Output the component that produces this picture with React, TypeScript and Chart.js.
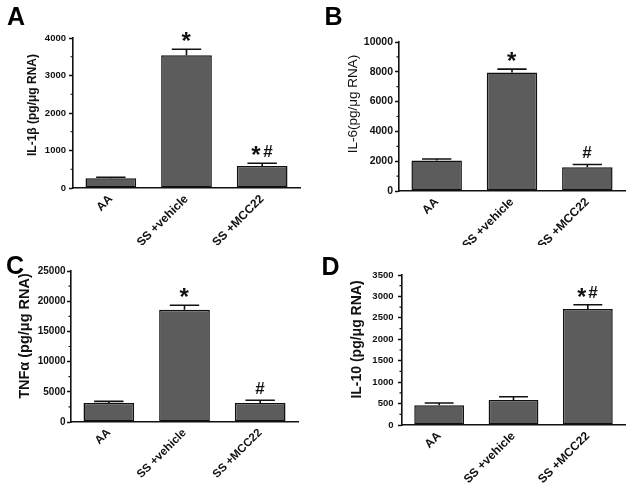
import React, { useEffect, useRef } from 'react';
import { Chart, registerables } from 'chart.js';

Chart.register(...registerables);

// ---------- data ----------
const categories = ['AA', 'SS +vehicle', 'SS +MCC22'];

const il1bMean = [262, 3540, 590];
const il1bUpper = [285, 3700, 662];
const il1bMarks = ['', '*', '*#'];
const il1bTicks = [0, 1000, 2000, 3000, 4000];

const il6Mean = [2040, 7950, 1595];
const il6Upper = [2150, 8180, 1780];
const il6Marks = ['', '*', '#'];
const il6Ticks = [0, 2000, 4000, 6000, 8000, 10000];

const tnfMean = [3150, 18600, 3150];
const tnfUpper = [3420, 19320, 3590];
const tnfMarks = ['', '*', '#'];
const tnfTicks = [0, 5000, 10000, 15000, 20000, 25000];

const il10Mean = [458, 583, 2704];
const il10Upper = [514, 660, 2806];
const il10Marks = ['', '', '*#'];
const il10Ticks = [0, 500, 1000, 1500, 2000, 2500, 3000, 3500];

// ---------- style ----------
const FONT = "'Liberation Sans', Arial, Helvetica, sans-serif";
const INK = '#111111';
const TEXT = '#111111';
const BAR = '#5c5c5c';

const panels: any[] = [
  {
    letter: 'A', x: 0, y: 0, w: 316, h: 245,
    area: { left: 73, top: 38, right: 300, bottom: 188 },
    mean: il1bMean, upper: il1bUpper, marks: il1bMarks, ticks: il1bTicks,
    title: 'IL-1β (pg/μg RNA)', titleSize: 12, titleWeight: 'bold', titleX: 35.5, titleY: 105,
    tickFont: 9.5, tickPad: 3, xFont: 12, letterX: 7, letterY: 25, starSize: 24, hashSize: 17,
  },
  {
    letter: 'B', x: 316, y: 0, w: 316, h: 245,
    area: { left: 83, top: 42, right: 309, bottom: 191 },
    mean: il6Mean, upper: il6Upper, marks: il6Marks, ticks: il6Ticks,
    title: 'IL-6(pg/μg RNA)', titleSize: 13.5, titleWeight: 'normal', titleX: 40.5, titleY: 104,
    tickFont: 10.5, tickPad: 2, xFont: 12, letterX: 8.5, letterY: 25, starSize: 24, hashSize: 17,
  },
  {
    letter: 'C', x: 0, y: 245, w: 316, h: 246,
    area: { left: 71, top: 26, right: 298, bottom: 177 },
    mean: tnfMean, upper: tnfUpper, marks: tnfMarks, ticks: tnfTicks,
    title: 'TNFα (pg/μg RNA)', titleSize: 14.5, titleWeight: 'bold', titleX: 29, titleY: 91,
    tickFont: 10, tickPad: 1.5, xFont: 11.5, letterX: 6, letterY: 28.5, starSize: 24, hashSize: 17,
  },
  {
    letter: 'D', x: 316, y: 245, w: 316, h: 246,
    area: { left: 86, top: 30, right: 309, bottom: 180 },
    mean: il10Mean, upper: il10Upper, marks: il10Marks, ticks: il10Ticks,
    title: 'IL-10 (pg/μg RNA)', titleSize: 14, titleWeight: 'bold', titleX: 44.5, titleY: 94.5,
    tickFont: 9.5, tickPad: 4.5, xFont: 12, letterX: 5.5, letterY: 30, starSize: 23, hashSize: 17,
  },
];

const decorPlugin: any = {
  id: 'decor',
  afterDatasetsDraw(chart: any, _args: any, opts: any) {
    const ctx = chart.ctx;
    const meta = chart.getDatasetMeta(0);
    const ys = chart.scales.y;
    ctx.save();
    ctx.strokeStyle = INK;
    ctx.fillStyle = INK;
    ctx.lineWidth = 1.6;
    meta.data.forEach((bar: any, i: number) => {
      const up = opts.upper[i];
      const py = ys.getPixelForValue(up);
      const half = (bar.width * opts.capRatio) / 2;
      ctx.beginPath();
      ctx.moveTo(bar.x, bar.y);
      ctx.lineTo(bar.x, py);
      ctx.moveTo(bar.x - half, py);
      ctx.lineTo(bar.x + half, py);
      ctx.stroke();

      const mark: string = opts.marks[i];
      if (mark) {
        const specs = mark.split('').map((g) => {
          const size = g === '*' ? opts.starSize : opts.hashSize;
          ctx.font = `bold ${size}px ${FONT}`;
          const m = ctx.measureText(g);
          return {
            g, size,
            left: m.actualBoundingBoxLeft,
            w: m.actualBoundingBoxLeft + m.actualBoundingBoxRight,
            asc: m.actualBoundingBoxAscent,
            desc: m.actualBoundingBoxDescent,
          };
        });
        const gap = 2;
        const total = specs.reduce((s: number, p: any) => s + p.w, 0) + gap * (specs.length - 1);
        let cx = bar.x - total / 2;
        const cy = py - opts.markGap;
        ctx.textAlign = 'left';
        ctx.textBaseline = 'alphabetic';
        specs.forEach((p: any) => {
          ctx.font = `bold ${p.size}px ${FONT}`;
          ctx.fillText(p.g, cx + p.left, cy + (p.asc - p.desc) / 2);
          cx += p.w + gap;
        });
      }
    });
    ctx.restore();
  },
  afterDraw(chart: any, _args: any, opts: any) {
    const ctx = chart.ctx;
    const ys = chart.scales.y;
    const left = chart.chartArea.left;
    ctx.save();
    // minor ticks midway between labelled ticks
    ctx.strokeStyle = INK;
    ctx.lineWidth = 1.2;
    const t = opts.ticks;
    ctx.beginPath();
    for (let i = 0; i < t.length - 1; i++) {
      const py = ys.getPixelForValue((t[i] + t[i + 1]) / 2);
      ctx.moveTo(left - 2.5, py);
      ctx.lineTo(left, py);
    }
    ctx.stroke();

    // y-axis title
    ctx.fillStyle = TEXT;
    ctx.font = `${opts.titleWeight} ${opts.titleSize}px ${FONT}`;
    ctx.textAlign = 'center';
    ctx.textBaseline = 'alphabetic';
    ctx.translate(opts.titleX, opts.titleY);
    ctx.rotate(-Math.PI / 2);
    ctx.fillText(opts.title, 0, 0);
    ctx.setTransform(1, 0, 0, 1, 0, 0);

    // panel letter
    ctx.fillStyle = '#000';
    ctx.font = `bold 25px ${FONT}`;
    ctx.textAlign = 'left';
    ctx.fillText(opts.letter, opts.letterX, opts.letterY);
    ctx.restore();
  },
};

function Panel({ cfg }: { cfg: any }) {
  const ref = useRef<HTMLCanvasElement>(null);
  useEffect(() => {
    if (!ref.current) return;
    const c = cfg;
    const chart = new Chart(ref.current, {
      type: 'bar',
      data: {
        labels: categories,
        datasets: [
          {
            data: c.mean,
            backgroundColor: BAR,
            borderColor: INK,
            borderWidth: 1.5,
            borderSkipped: false,
            barPercentage: 0.67,
            categoryPercentage: 1,
          },
        ],
      },
      options: {
        animation: false,
        responsive: false,
        maintainAspectRatio: false,
        events: [],
        layout: { padding: { left: 0, top: c.area.top, right: c.w - c.area.right, bottom: 0 } },
        plugins: {
          legend: { display: false },
          tooltip: { enabled: false },
          decor: {
            upper: c.upper, marks: c.marks, ticks: c.ticks, capRatio: 0.58, markGap: 12.5,
            starSize: c.starSize, hashSize: c.hashSize,
            title: c.title, titleSize: c.titleSize, titleWeight: c.titleWeight,
            titleX: c.titleX, titleY: c.titleY,
            letter: c.letter, letterX: c.letterX, letterY: c.letterY,
          },
        } as any,
        scales: {
          x: {
            type: 'category',
            offset: true,
            grid: { display: false, drawTicks: false, tickLength: 0 },
            border: { display: true, color: INK, width: 1.6 },
            ticks: {
              autoSkip: false,
              minRotation: 45,
              maxRotation: 45,
              padding: 4,
              color: TEXT,
              font: { family: FONT, size: c.xFont, weight: 'bold' },
            },
            afterFit: (s: any) => { s.height = c.h - c.area.bottom; },
          },
          y: {
            type: 'linear',
            min: 0,
            max: c.ticks[c.ticks.length - 1],
            afterBuildTicks: (s: any) => { s.ticks = c.ticks.map((v: number) => ({ value: v })); },
            grid: {
              display: true,
              drawOnChartArea: false,
              drawTicks: true,
              tickLength: 4,
              tickColor: INK,
              tickWidth: 1.5,
              color: INK,
            },
            border: { display: true, color: INK, width: 1.6 },
            ticks: {
              padding: c.tickPad,
              color: TEXT,
              font: { family: FONT, size: c.tickFont, weight: 'bold' },
              callback: (v: any) => String(v),
            },
            afterFit: (s: any) => { s.width = c.area.left; },
          },
        } as any,
      },
      plugins: [decorPlugin],
    } as any);
    return () => chart.destroy();
  }, [cfg]);
  return (
    <canvas
      ref={ref}
      width={cfg.w}
      height={cfg.h}
      style={{ position: 'absolute', left: cfg.x, top: cfg.y, width: cfg.w, height: cfg.h }}
    />
  );
}

export default function App() {
  return (
    <div style={{ position: 'absolute', left: 0, top: 0, width: 632, height: 491, background: '#fff' }}>
      {panels.map((p) => (
        <Panel key={p.letter} cfg={p} />
      ))}
    </div>
  );
}
